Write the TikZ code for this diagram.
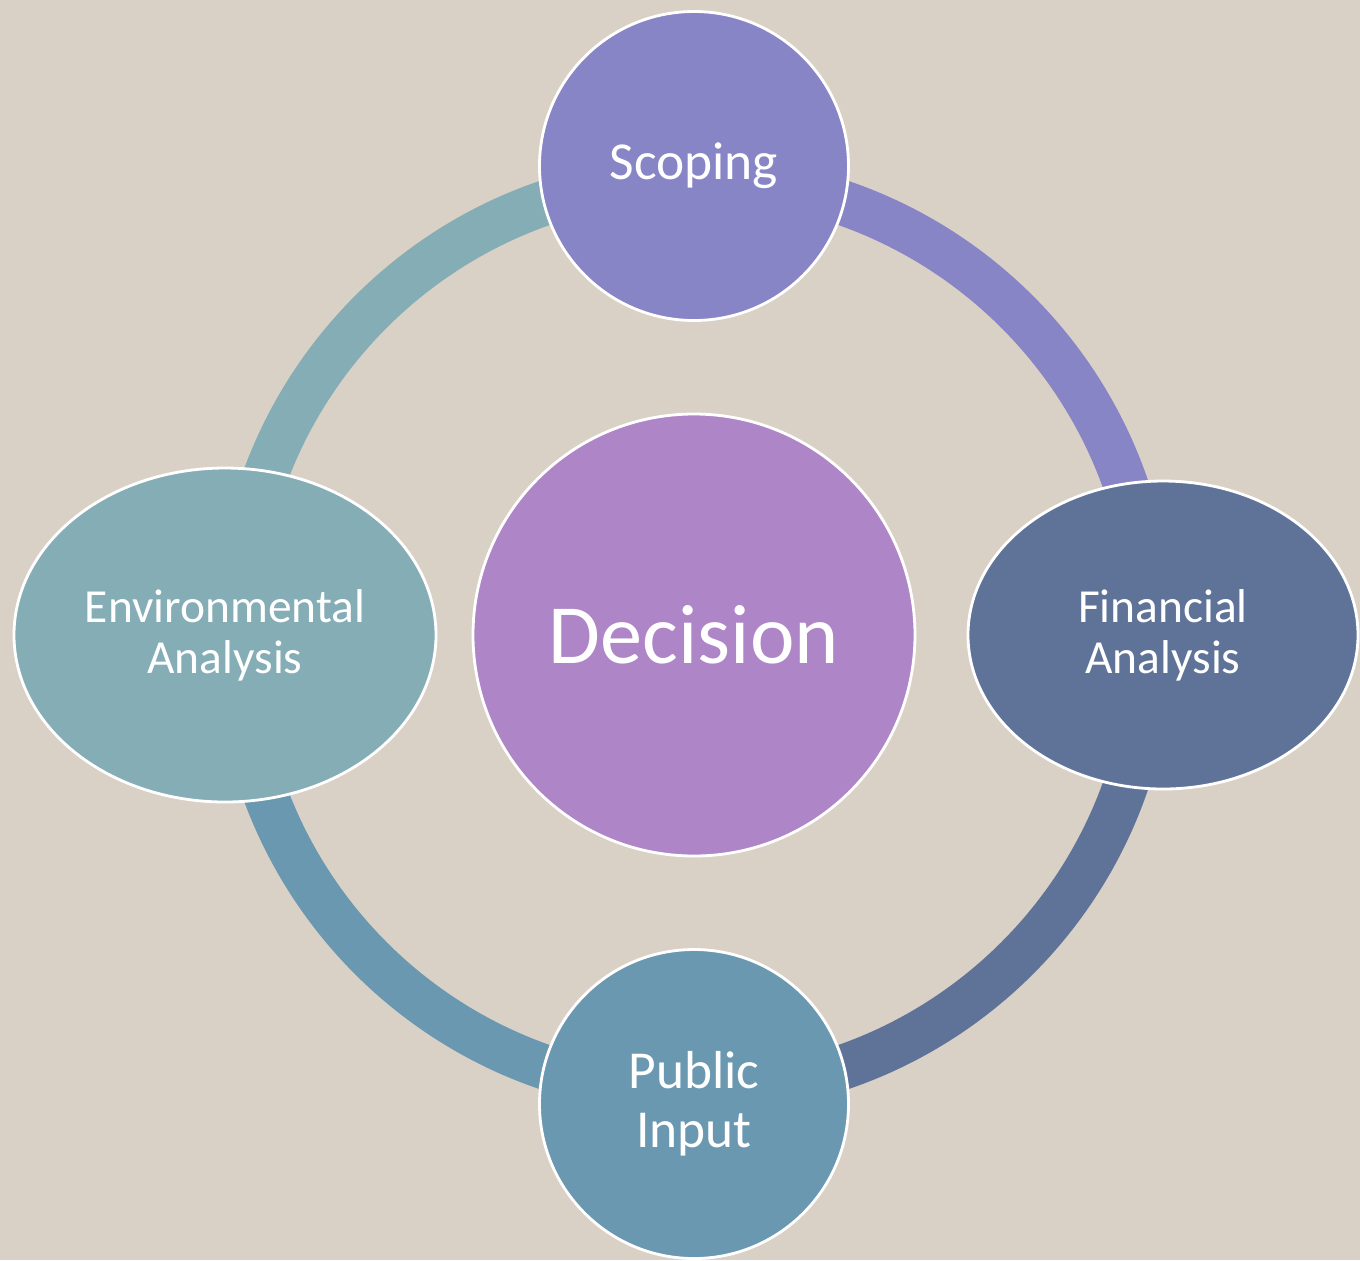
\documentclass[tikz,border=0pt]{standalone}
\usepackage{fontspec}
\setmainfont{Carlito}
\usetikzlibrary{shapes.geometric}

\definecolor{bgbeige}{HTML}{D9D1C6}
\definecolor{scopecol}{HTML}{8885C6}
\definecolor{deccol}{HTML}{AE85C6}
\definecolor{fincol}{HTML}{5F7399}
\definecolor{pubcol}{HTML}{6A98B0}
\definecolor{envcol}{HTML}{85ADB6}

\begin{document}
\begin{tikzpicture}[
    ringarc/.style={line width=0.45cm, line cap=butt},
    bubble/.style={draw=white, line width=0.8pt, text=white, inner sep=0pt, align=center,
                   font=\fontsize{13.5}{14.6}\selectfont},
    roundbubble/.style={bubble, circle, minimum size=3.09cm, font=\fontsize{15.2}{16.7}\selectfont},
    ovalbubble/.style={bubble, ellipse}
]
    % background and page size
    \fill[bgbeige] (-6.94,-6.25) rectangle (6.66,6.35);
    \useasboundingbox (-6.94,-6.25) rectangle (6.66,6.35);

    % Centre: the decision
    \node[bubble, circle, fill=deccol, minimum size=4.42cm,
          font=\fontsize{24}{28}\selectfont] (dec) at (0,0) {Decision};

    % Ring segments, one per step, drawn clockwise
    \draw[ringarc, envcol]   ([shift={(180:4.57)}]dec.center) arc[start angle=180, end angle=90,  radius=4.57];
    \draw[ringarc, scopecol] ([shift={(90:4.57)}]dec.center)  arc[start angle=90,  end angle=0,   radius=4.57];
    \draw[ringarc, fincol]   ([shift={(0:4.57)}]dec.center)   arc[start angle=0,   end angle=-90, radius=4.57];
    \draw[ringarc, pubcol]   ([shift={(-90:4.57)}]dec.center) arc[start angle=-90, end angle=-180, radius=4.57];

    % The four steps round the ring
    \node[roundbubble, fill=scopecol] (scope) at (0,4.69) {Scoping};
    \node[ovalbubble, fill=fincol, minimum width=3.90cm, minimum height=3.08cm] (fin) at (4.69,0) {Financial\\Analysis};
    \node[roundbubble, fill=pubcol] (pub) at (0,-4.69) {Public\\Input};
    \node[ovalbubble, fill=envcol, minimum width=4.22cm, minimum height=3.34cm] (env) at (-4.69,0) {Environmental\\Analysis};
\end{tikzpicture}
\end{document}
